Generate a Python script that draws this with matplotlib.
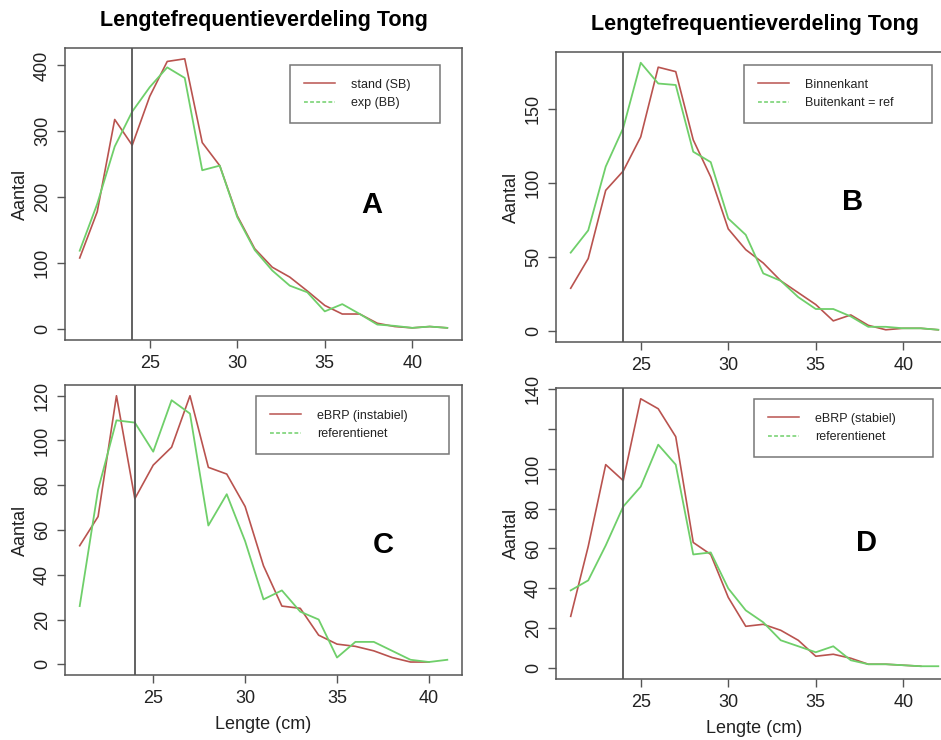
import numpy as np
import matplotlib
matplotlib.use("Agg")
import matplotlib.pyplot as plt
from matplotlib.lines import Line2D

plt.rcParams['font.family'] = ['Liberation Sans', 'DejaVu Sans']

RED = "#b9534f"
GREEN = "#6fcf6a"
GREY = "#555555"

# lengteklassen (cm)
lengte = list(range(21, 43))
lengte_c_red = list(range(21, 41))
lengte_c_green = list(range(21, 42))
lengte_d_red = list(range(21, 42))

# A: stand (SB) vs exp (BB)
a_stand = [108, 178, 318, 279, 353, 406, 410, 283, 248, 172, 122, 94, 79, 58,
           36, 23, 23, 9, 4, 2, 4, 2]
a_exp = [119, 190, 277, 330, 367, 397, 381, 241, 248, 170, 120, 89, 66, 56,
         27, 38, 23, 7, 5, 2, 4, 2]

# B: binnenkant vs buitenkant
b_binnen = [29, 49, 95, 108, 131, 178, 175, 129, 104, 69, 55, 46, 34, 26,
            18, 7, 11, 4, 1, 2, 2, 1]
b_buiten = [53, 68, 111, 137, 181, 167, 166, 121, 114, 76, 65, 39, 34, 23,
            15, 15, 10, 3, 3, 2, 2, 1]

# C: eBRP (instabiel) vs referentienet
c_ebrp = [53, 66, 120, 74, 89, 97, 120, 88, 85, 70.5, 44, 26, 25, 13,
          9, 8, 6, 3, 1, 1]
c_ref = [26, 78, 109, 108, 95, 118, 112, 62, 76, 55, 29, 33, 23.5, 20,
         3, 10, 10, 6, 2, 1, 2]

# D: eBRP (stabiel) vs referentienet
d_ebrp = [26, 61, 102, 94, 135, 130, 116, 63, 57, 35.5, 21, 22, 19, 14,
          6, 7, 5, 2, 2, 1.5, 1]
d_ref = [39, 44, 61.5, 81, 91, 112, 102, 57, 58, 40, 29, 23, 14, 11,
         8, 11, 4, 2, 2, 1.5, 1, 1]

TITLE = "Lengtefrequentieverdeling Tong"

W, H = 941, 740
fig = plt.figure(figsize=(W / 100, H / 100), dpi=100)


def make_axes(left, top, width, height):
    return fig.add_axes([left / W, 1 - (top + height) / H, width / W, height / H])


def panel(ax, xr, yr, xg, yg, labels, yticks, letter, letter_pos,
          legend_pos, ylabels=None, title=False, xlabel=False):
    ax.plot(xr, yr, color=RED, lw=1.2)
    ax.plot(xg, yg, color=GREEN, lw=1.3)
    ax.axvline(24, color=GREY, lw=1.3)

    xs = list(xr) + list(xg)
    span = max(xs) - min(xs)
    ax.set_xlim(min(xs) - 0.04 * span, max(xs) + 0.04 * span)
    ymax = max(max(yr), max(yg))
    ax.set_ylim(-0.04 * ymax, 1.04 * ymax)

    ax.set_xticks([25, 30, 35, 40])
    ax.set_yticks(yticks)
    if ylabels is not None:
        ax.set_yticklabels(ylabels)
    ax.tick_params(axis='both', direction='out', length=6, width=1,
                   color=GREY, labelsize=13, labelcolor="#222222")
    ax.tick_params(axis='x', pad=5)
    ax.tick_params(axis='y', pad=4)
    for lab in ax.get_yticklabels():
        lab.set_rotation(90)
        lab.set_va('center')
    for sp in ax.spines.values():
        sp.set_color(GREY)
        sp.set_linewidth(1.1)

    ax.set_ylabel("Aantal", fontsize=13, labelpad=4, color="#222222")
    if xlabel:
        ax.set_xlabel("Lengte (cm)", fontsize=13, labelpad=6, color="#222222")
    if title:
        ax.set_title(TITLE, fontsize=15.5, fontweight='bold', pad=16)

    ax.text(letter_pos[0], letter_pos[1], letter, transform=ax.transAxes,
            fontsize=21, fontweight='bold', ha='center', va='center')

    handles = [Line2D([], [], color=RED, lw=1.1),
               Line2D([], [], color=GREEN, lw=1.1, ls=(0, (2.5, 1.5)))]
    x0, ytop, w = legend_pos
    leg = ax.legend(handles, labels, loc='upper left',
                    bbox_to_anchor=(x0, ytop - 0.3, w, 0.3), mode='expand',
                    fontsize=9, frameon=True, fancybox=False,
                    borderpad=1.1, labelspacing=0.5, handlelength=2.5,
                    handletextpad=1.3, borderaxespad=0)
    leg.get_frame().set_edgecolor(GREY)
    leg.get_frame().set_linewidth(1.1)
    for t in leg.get_texts():
        t.set_color("#222222")


axA = make_axes(65, 48, 397, 292)
axB = make_axes(556, 52, 397, 290)
axC = make_axes(65, 385, 397, 290)
axD = make_axes(556, 388, 397, 291)

panel(axA, lengte, a_stand, lengte, a_exp, ["stand (SB)", "exp (BB)"],
      [0, 100, 200, 300, 400], "A", (0.773, 0.462),
      (0.567, 0.942, 0.378), title=True)
panel(axB, lengte, b_binnen, lengte, b_buiten, ["Binnenkant", "Buitenkant = ref"],
      [0, 50, 100, 150], "B", (0.748, 0.482),
      (0.474, 0.955, 0.474), title=True)
panel(axC, lengte_c_red, c_ebrp, lengte_c_green, c_ref,
      ["eBRP (instabiel)", "referentienet"],
      [0, 20, 40, 60, 80, 100, 120], "C", (0.801, 0.448),
      (0.481, 0.962, 0.486), xlabel=True)
panel(axD, lengte_d_red, d_ebrp, lengte, d_ref,
      ["eBRP (stabiel)", "referentienet"],
      [0, 20, 40, 60, 80, 100, 120, 140], "D", (0.783, 0.467),
      (0.499, 0.962, 0.451),
      ylabels=["0", "20", "40", "60", "80", "100", "", "140"], xlabel=True)

fig.savefig("out.png", dpi=100)
